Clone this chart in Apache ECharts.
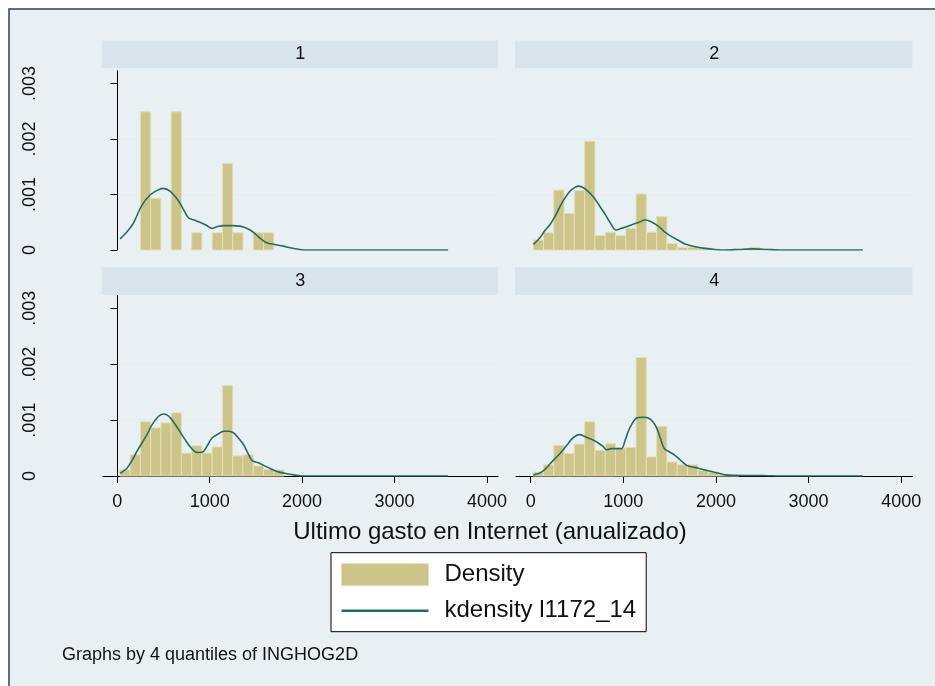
<!DOCTYPE html>
<html>
<head>
<meta charset="utf-8">
<script src="https://cdn.jsdelivr.net/npm/echarts@6/dist/echarts.min.js"></script>
<style>
  html, body { margin: 0; padding: 0; background: #ffffff; }
  #chart { width: 935px; height: 686px; }
</style>
</head>
<body>
<div id="chart"></div>
<script>
// Histogram bins (same bins in every panel)
const binStart = 28;
const binWidth = 111;

// Panel titles (quartile of INGHOG2D)
const panelTitles = ['1', '2', '3', '4'];

// Histogram densities per bin, one array per quartile
const density1 = [0, 0, 0.00249, 0.00093, 0, 0.00249, 0, 0.00031, 0, 0.00031, 0.00156, 0.00031, 0, 0.00031, 0.00031];
const density2 = [0.00018, 0.00031, 0.00108, 0.00066, 0.00107, 0.00196, 0.00026, 0.00032, 0.00026, 0.00039, 0.00101, 0.00032, 0.00060, 0.00012, 0.00005, 0.00005, 0.00004, 0, 0, 0, 0, 0.00005];
const density3 = [0.00011, 0.00038, 0.00097, 0.00086, 0.00095, 0.00113, 0.00041, 0.00054, 0.00041, 0.00052, 0.00162, 0.00036, 0.00038, 0.00018, 0.00012, 0.00011];
const density4 = [0.00007, 0.00020, 0.00055, 0.00040, 0.00057, 0.00097, 0.00046, 0.00058, 0.00050, 0.00051, 0.00212, 0.00034, 0.00089, 0.00025, 0.00020, 0.00020, 0.00010, 0.00007, 0.00003, 0.00002];

// Kernel density estimates: [gasto, densidad]
const kdens1 = [[30,0.00020],[100,0.00032],[173,0.00048],[264,0.00080],[354,0.00099],[426,0.00107],[498,0.00111],[570,0.00106],[660,0.00089],[720,0.00072],[769,0.00058],[830,0.00054],[895,0.00050],[960,0.00045],[1021,0.00039],[1080,0.00042],[1147,0.00044],[1250,0.00044],[1328,0.00043],[1400,0.00039],[1472,0.00032],[1540,0.00022],[1617,0.00013],[1700,0.00010],[1797,0.00007],[1870,0.00004],[1977,0.00001],[2050,0],[3580,0]];
const kdens2 = [[30,0.00010],[100,0.00022],[154,0.00035],[210,0.00046],[262,0.00060],[310,0.00076],[352,0.00089],[424,0.00106],[470,0.00112],[514,0.00115],[560,0.00113],[604,0.00108],[650,0.00101],[694,0.00092],[750,0.00078],[802,0.00065],[860,0.00049],[921,0.00036],[980,0.00039],[1036,0.00042],[1100,0.00046],[1170,0.00050],[1234,0.00054],[1290,0.00052],[1342,0.00047],[1400,0.00040],[1450,0.00032],[1522,0.00024],[1600,0.00017],[1666,0.00011],[1774,0.00006],[1880,0.00003],[1990,0.00001],[2100,0],[2250,0.00001],[2400,0.00002],[2550,0.00001],[2700,0],[3585,0]];
const kdens3 = [[30,0.00005],[105,0.00014],[160,0.00028],[213,0.00044],[270,0.00060],[321,0.00074],[370,0.00090],[411,0.00100],[455,0.00108],[501,0.00111],[540,0.00109],[574,0.00104],[620,0.00094],[664,0.00083],[710,0.00071],[754,0.00060],[800,0.00050],[844,0.00043],[890,0.00042],[934,0.00044],[980,0.00056],[1025,0.00068],[1090,0.00075],[1151,0.00080],[1210,0.00080],[1259,0.00077],[1310,0.00068],[1367,0.00056],[1410,0.00042],[1457,0.00028],[1520,0.00024],[1584,0.00019],[1660,0.00013],[1728,0.00008],[1810,0.00005],[1908,0.00002],[2010,0],[3580,0]];
const kdens4 = [[30,0.00002],[80,0.00004],[136,0.00009],[190,0.00018],[244,0.00028],[300,0.00037],[352,0.00047],[400,0.00057],[442,0.00066],[490,0.00072],[532,0.00074],[580,0.00071],[622,0.00068],[680,0.00064],[730,0.00059],[780,0.00053],[820,0.00047],[870,0.00049],[920,0.00049],[982,0.00049],[1020,0.00064],[1054,0.00080],[1100,0.00095],[1144,0.00104],[1210,0.00105],[1270,0.00104],[1320,0.00097],[1360,0.00086],[1400,0.00068],[1443,0.00049],[1500,0.00043],[1558,0.00037],[1620,0.00028],[1684,0.00019],[1750,0.00016],[1810,0.00014],[1880,0.00011],[1954,0.00008],[2030,0.00005],[2098,0.00002],[2300,0.00001],[2500,0.00001],[2700,0],[3585,0]];

// Axis ticks
const xTicks = [0, 1000, 2000, 3000, 4000];
const yTicks = [0, 0.001, 0.002, 0.003];

const xTitle = 'Ultimo gasto en Internet (anualizado)';
const noteText = 'Graphs by 4 quantiles of INGHOG2D';
const histName = 'Density';
const kdensName = 'kdensity l1172_14';

const FONT = "'Liberation Sans', Arial, Helvetica, sans-serif";
const BAR_FILL = '#ccc488';
const BAR_EDGE = '#e4dfb8';
const LINE_COLOR = '#276b63';
const GRID_LINE = '#e6eef1';
const BG = '#e8f0f3';
const STRIP = '#d9e5eb';

const densities = [density1, density2, density3, density4];
const kdensities = [kdens1, kdens2, kdens3, kdens4];

// Panel placement (pixels): 2 x 2 layout
const panels = [
  { left: 102.7, top: 70.7, width: 395.3, height: 179.3, stripTop: 40.5 },
  { left: 516,   top: 70.7, width: 396.3, height: 179.3, stripTop: 40.5 },
  { left: 102.7, top: 295.5, width: 395.3, height: 180.5, stripTop: 267 },
  { left: 516,   top: 295.5, width: 396.3, height: 180.5, stripTop: 267 }
];
const STRIP_H = 27.7;

const chart = echarts.init(document.getElementById('chart'), null, { renderer: 'canvas' });

function histData(values) {
  const out = [];
  values.forEach((h, k) => {
    if (h > 0) out.push([binStart + k * binWidth, binStart + (k + 1) * binWidth, h]);
  });
  return out;
}

function renderBar(params, api) {
  const p0 = api.coord([api.value(0), 0]);
  const p1 = api.coord([api.value(1), api.value(2)]);
  return {
    type: 'rect',
    shape: { x: p0[0], y: p1[1], width: p1[0] - p0[0], height: p0[1] - p1[1] },
    style: { fill: BAR_FILL, stroke: BAR_EDGE, lineWidth: 1 }
  };
}

function yLabel(v) {
  if (Math.abs(v) < 1e-12) return '0';
  return (+v.toFixed(3)).toString().replace(/^0/, '');
}

const grids = [], xAxes = [], yAxes = [], series = [], graphics = [];

panels.forEach((p, i) => {
  const isLeft = (i % 2 === 0);
  const isBottom = (i >= 2);
  grids.push({
    left: p.left, top: p.top, width: p.width, height: p.height,
    show: true, backgroundColor: '#ffffff', borderWidth: 0
  });
  xAxes.push({
    type: 'value', gridIndex: i, min: -158, max: 4120,
    axisLine: { show: isBottom, onZero: false, lineStyle: { color: '#000', width: 1 } },
    axisTick: { show: isBottom, customValues: xTicks, length: 7, lineStyle: { color: '#000' } },
    axisLabel: {
      show: isBottom, customValues: xTicks, margin: 17,
      fontSize: 18, color: '#111', fontFamily: FONT, formatter: (v) => String(v)
    },
    splitLine: { show: false }
  });
  yAxes.push({
    type: 'value', gridIndex: i, min: 0, max: 0.00323, interval: 0.001,
    axisLine: { show: isLeft, lineStyle: { color: '#000', width: 1 } },
    axisTick: { show: isLeft, customValues: yTicks, length: 7, lineStyle: { color: '#000' } },
    axisLabel: {
      show: isLeft, customValues: yTicks, rotate: 90, margin: 64,
      fontSize: 18, color: '#111', fontFamily: FONT, formatter: yLabel
    },
    splitLine: { show: true, showMinLine: false, showMaxLine: false, lineStyle: { color: GRID_LINE, width: 2 } }
  });
  series.push({
    name: histName, type: 'custom', xAxisIndex: i, yAxisIndex: i,
    renderItem: renderBar, data: histData(densities[i]),
    itemStyle: { color: BAR_FILL, borderColor: BAR_EDGE, borderWidth: 1 },
    encode: { x: [0, 1], y: 2 }, silent: true, z: 2
  });
  series.push({
    name: kdensName, type: 'line', xAxisIndex: i, yAxisIndex: i,
    data: kdensities[i], smooth: 0.3, symbol: 'none', showSymbol: false,
    lineStyle: { color: LINE_COLOR, width: 1.6 }, itemStyle: { color: LINE_COLOR },
    silent: true, z: 3
  });
  // strip header above each panel
  graphics.push({
    type: 'rect', silent: true, z: 1,
    shape: { x: p.left - 1, y: p.stripTop, width: p.width + 1, height: STRIP_H },
    style: { fill: STRIP }
  });
  graphics.push({
    type: 'text', silent: true, z: 2,
    x: p.left + p.width / 2, y: p.stripTop + STRIP_H / 2,
    style: { text: panelTitles[i], fill: '#111', font: '18px ' + FONT, align: 'center', verticalAlign: 'middle' }
  });
});

// outer frame of the graph region
graphics.unshift({
  type: 'rect', silent: true, z: 0,
  shape: { x: 9, y: 9, width: 940, height: 690 },
  style: { fill: BG, stroke: '#2d4256', lineWidth: 1.5 }
});

graphics.push({
  type: 'text', silent: true, z: 2,
  x: 490, y: 532,
  style: { text: xTitle, fill: '#111', font: '24px ' + FONT, align: 'center', verticalAlign: 'middle' }
});
graphics.push({
  type: 'text', silent: true, z: 2,
  x: 62, y: 655,
  style: { text: noteText, fill: '#111', font: '18px ' + FONT, align: 'left', verticalAlign: 'middle' }
});

chart.setOption({
  backgroundColor: '#ffffff',
  animation: false,
  grid: grids,
  xAxis: xAxes,
  yAxis: yAxes,
  series: series,
  graphic: { elements: graphics },
  legend: {
    orient: 'vertical', left: 331, top: 552.7,
    padding: [10, 10, 9, 10],
    itemWidth: 87, itemHeight: 22, itemGap: 12,
    backgroundColor: '#ffffff', borderColor: '#000', borderWidth: 1, borderRadius: 0,
    textStyle: { fontSize: 24, color: '#111', fontFamily: FONT, padding: [0, 0, 0, 11] },
    data: [
      { name: histName, icon: 'rect', itemStyle: { color: BAR_FILL, borderColor: BAR_EDGE, borderWidth: 1 } },
      { name: kdensName, icon: 'path://M0,0 L100,0 L100,3 L0,3 Z', itemStyle: { color: LINE_COLOR } }
    ],
    selectedMode: false
  }
});
</script>
</body>
</html>
